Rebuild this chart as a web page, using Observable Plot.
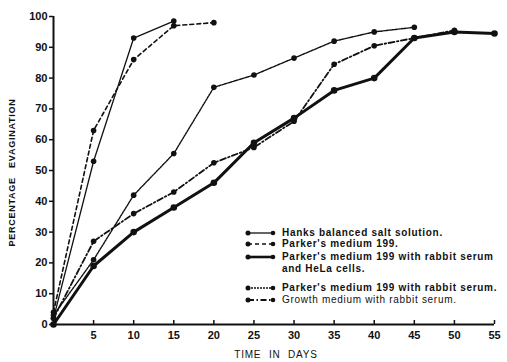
<!DOCTYPE html>
<html><head><meta charset="utf-8">
<script src="https://cdn.jsdelivr.net/npm/d3@7"></script>
<script src="https://cdn.jsdelivr.net/npm/@observablehq/plot@0.6"></script>
<style>
body{margin:0;background:#fff;}
#wrap{position:relative;width:507px;height:362px;overflow:hidden;}
#legend{position:absolute;left:245px;top:0;font-family:"Liberation Sans",Arial,sans-serif;font-weight:bold;font-size:10px;letter-spacing:0.7px;color:#111;}
.row{position:absolute;left:0;white-space:nowrap;height:12px;line-height:12px;}
.row svg{position:absolute;left:0;top:0;}
.row span{position:absolute;left:37px;top:0;}
</style></head><body><div id="wrap"><div id="legend"></div></div>
<script>
// ---- data ----
const xTicks = [5, 10, 15, 20, 25, 30, 35, 40, 45, 50, 55];
const yTicks = [0, 10, 20, 30, 40, 50, 60, 70, 80, 90, 100];
const seriesNames = [
  "Hanks balanced salt solution.",
  "Parker's medium  199.",
  "Parker's medium 199 with rabbit serum",
  "Parker's medium 199 with rabbit serum.",
  "Growth medium with rabbit serum."
];
const hanksDays  = [0, 5, 10, 15];
const hanksPct   = [2, 53, 93, 98.5];
const parkerDays = [0, 5, 10, 15, 20];
const parkerPct  = [4, 63, 86, 97, 98];
const helaDays   = [0, 5, 10, 15, 20, 25, 30, 35, 40, 45, 50, 55];
const helaPct    = [0, 19, 30, 38, 46, 59, 67, 76, 80, 93, 95, 94.5];
const serumDays  = [0, 5, 10, 15, 20, 25, 30, 35, 40, 45];
const serumPct   = [3, 21, 42, 55.5, 77, 81, 86.5, 92, 95, 96.5];
const growthDays = [0, 5, 10, 15, 20, 25, 30, 35, 40, 45, 50];
const growthPct  = [2, 27, 36, 43, 52.5, 57.5, 66, 84.5, 90.5, 93, 95.5];

// ---- build ----
const ink = "#111";
const zip = (ds, vs) => ds.map((d, i) => ({day: d, pct: vs[i]}));
const series = [
  {data: zip(hanksDays, hanksPct),   sw: 1.3, dash: null, r: 2.8},
  {data: zip(parkerDays, parkerPct), sw: 1.6, dash: "4,3", r: 2.8},
  {data: zip(helaDays, helaPct),     sw: 3,   dash: null, r: 3.3},
  {data: zip(serumDays, serumPct),   sw: 1.4, dash: "2,1", r: 2.8},
  {data: zip(growthDays, growthPct), sw: 1.8, dash: "6,2.5,1.5,2.5", r: 2.8}
];

const marks = [];
for (const s of series) {
  marks.push(Plot.line(s.data, {x: "day", y: "pct", stroke: ink, strokeWidth: s.sw, strokeDasharray: s.dash}));
  marks.push(Plot.dot(s.data, {x: "day", y: "pct", r: s.r, fill: ink}));
}

const chart = Plot.plot({
  width: 507, height: 362,
  marginTop: 16, marginBottom: 38, marginLeft: 53, marginRight: 13,
  style: {fontFamily: "'Liberation Sans', Arial, sans-serif", fontSize: "11px", fontWeight: "bold", color: ink, background: "#fff"},
  x: {domain: [0, 55]},
  y: {domain: [0, 100]},
  marks: [
    Plot.ruleY([0], {stroke: ink, strokeWidth: 2}),
    Plot.ruleX([0], {stroke: ink, strokeWidth: 2}),
    Plot.axisY({ticks: yTicks, tickSize: 4, tickPadding: 2, label: null, strokeWidth: 1.5}),
    Plot.axisX({ticks: xTicks, tickSize: 0, tickPadding: 7, label: null}),
    Plot.tickX(xTicks, {x: d => d, insetTop: 304, stroke: ink, strokeWidth: 1.5}),
    ...marks,
    Plot.text(["TIME IN DAYS"], {frameAnchor: "bottom", lineAnchor: "middle", textAnchor: "middle", dy: 30, dx: 2, fontWeight: "normal", fontSize: 10, fill: ink}),
    Plot.text(["PERCENTAGE EVAGINATION"], {frameAnchor: "left", textAnchor: "middle", lineAnchor: "middle", dx: -41, dy: 2, rotate: -90, fontSize: 9, fill: ink})
  ]
});
const wrap = document.getElementById("wrap");
wrap.insertBefore(chart, wrap.firstChild);
d3.select(chart).selectAll("text").each(function() {
  const t = this.textContent;
  if (t === "TIME IN DAYS") d3.select(this).style("letter-spacing", "0.8px").style("word-spacing", "4px");
  if (t === "PERCENTAGE EVAGINATION") d3.select(this).style("letter-spacing", "0.75px").style("word-spacing", "6px");
});

// ---- legend (inside plot area) ----
const legendRows = [
  {top: 227, si: 0, text: seriesNames[0]},
  {top: 238, si: 1, text: seriesNames[1]},
  {top: 251, si: 2, text: seriesNames[2]},
  {top: 263, si: -1, text: "and HeLa cells."},
  {top: 282, si: 3, text: seriesNames[3]},
  {top: 294, si: 4, text: seriesNames[4], light: true}
];
const legend = document.getElementById("legend");
for (const row of legendRows) {
  const div = document.createElement("div");
  div.className = "row";
  div.style.top = row.top + "px";
  if (row.si >= 0) {
    const s = series[row.si];
    const sv = d3.create("svg").attr("width", 32).attr("height", 12);
    sv.append("line").attr("x1", 3).attr("x2", 28).attr("y1", 6).attr("y2", 6)
      .attr("stroke", ink).attr("stroke-width", Math.min(s.sw, 2.6)).attr("stroke-dasharray", s.dash);
    sv.append("circle").attr("cx", 3).attr("cy", 6).attr("r", 2.5).attr("fill", ink);
    sv.append("circle").attr("cx", 28).attr("cy", 6).attr("r", 2.3).attr("fill", ink);
    div.appendChild(sv.node());
  }
  const span = document.createElement("span");
  span.textContent = row.text;
  if (row.light) span.style.fontWeight = "normal";
  div.appendChild(span);
  legend.appendChild(div);
}
</script></body></html>
